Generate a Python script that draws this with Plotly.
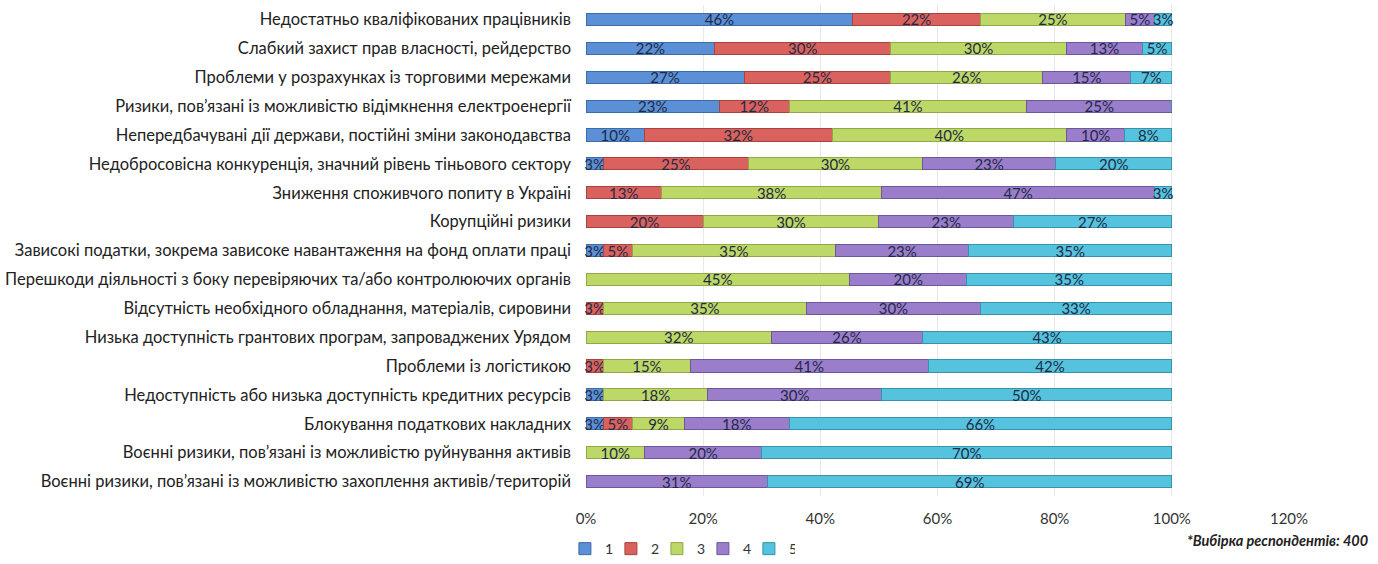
import plotly.graph_objects as go

categories = [
    "Недостатньо кваліфікованих працівників",
    "Слабкий захист прав власності, рейдерство",
    "Проблеми у розрахунках із торговими мережами",
    "Ризики, пов’язані із можливістю відімкнення електроенергії",
    "Непередбачувані дії держави, постійні зміни законодавства",
    "Недобросовісна конкуренція, значний рівень тіньового сектору",
    "Зниження споживчого попиту в Україні",
    "Корупційні ризики",
    "Зависокі податки, зокрема зависоке навантаження на фонд оплати праці",
    "Перешкоди діяльності з боку перевіряючих та/або контролюючих органів",
    "Відсутність необхідного обладнання, матеріалів, сировини",
    "Низька доступність грантових програм, запроваджених Урядом",
    "Проблеми із логістикою",
    "Недоступність або низька доступність кредитних ресурсів",
    "Блокування податкових накладних",
    "Воєнні ризики, пов’язані із можливістю руйнування активів",
    "Воєнні ризики, пов’язані із можливістю захоплення активів/територій",
]

s1 = [46, 22, 27, 23, 10, 3, 0, 0, 3, 0, 0, 0, 0, 3, 3, 0, 0]
s2 = [22, 30, 25, 12, 32, 25, 13, 20, 5, 0, 3, 0, 3, 0, 5, 0, 0]
s3 = [25, 30, 26, 41, 40, 30, 38, 30, 35, 45, 35, 32, 15, 18, 9, 10, 0]
s4 = [5, 13, 15, 25, 10, 23, 47, 23, 23, 20, 30, 26, 41, 30, 18, 20, 31]
s5 = [3, 5, 7, 0, 8, 20, 3, 27, 35, 35, 33, 43, 42, 50, 66, 70, 69]

series_names = ["1", "2", "3", "4", "5"]
series_values = [s1, s2, s3, s4, s5]
colors = ["#5B8FD6", "#D9625E", "#BDD866", "#9A7DCB", "#55C3DE"]
edge_colors = ["#3D6BA8", "#A8423F", "#8FA848", "#6E569A", "#3693AB"]

tick_vals = [0, 20, 40, 60, 80, 100, 120]
tick_text = ["0%", "20%", "40%", "60%", "80%", "100%", "120%"]

fig = go.Figure()
for name, vals, c, ec in zip(series_names, series_values, colors, edge_colors):
    fig.add_trace(go.Bar(
        name=name,
        y=categories,
        x=vals,
        orientation="h",
        marker=dict(color=c, line=dict(color=ec, width=1)),
        text=[f"{v}%" if v > 0 else "" for v in vals],
        textposition="inside",
        insidetextanchor="middle",
        textangle=0,
        textfont=dict(family="Lato, sans-serif", size=15, color="#1F2A44"),
        cliponaxis=False,
        hoverinfo="skip",
    ))

fig.update_layout(
    barmode="stack",
    barnorm="percent",
    bargap=0.58,
    width=1378,
    height=564,
    paper_bgcolor="white",
    plot_bgcolor="white",
    margin=dict(l=586, r=89, t=5, b=68, autoexpand=False),
    uniformtext=dict(minsize=15, mode="show"),
    font=dict(family="Lato, sans-serif", size=15, color="#222222"),
    legend=dict(
        orientation="h",
        traceorder="normal",
        x=-0.03, xanchor="left",
        y=-0.108, yanchor="middle",
        font=dict(size=14, color="#333333"),
        itemwidth=30,
        entrywidth=1,
        entrywidthmode="pixels",
        tracegroupgap=0,
        bgcolor="rgba(0,0,0,0)",
    ),
    annotations=[dict(
        text="<b><i>*Вибірка респондентів: 400</i></b>",
        xref="paper", yref="paper",
        x=1.115, y=-0.09,
        xanchor="right", yanchor="middle",
        showarrow=False,
        font=dict(family="Lato, sans-serif", size=14.5, color="#222222"),
    )],
)

fig.update_xaxes(
    range=[0, 120],
    tickvals=tick_vals,
    ticktext=tick_text,
    showgrid=True,
    gridcolor="#E8E8E8",
    zeroline=False,
    showline=False,
    tickfont=dict(size=15, color="#333333"),
    ticklen=0,
    ticklabelstandoff=12,
)
fig.update_yaxes(
    autorange="reversed",
    showgrid=False,
    showline=False,
    ticks="",
    ticklen=0,
    ticklabelstandoff=14,
    tickfont=dict(size=16.5, color="#222222"),
)

fig.write_html("out.html", config={"displayModeBar": False},
               post_script="document.body.style.margin='0';")
